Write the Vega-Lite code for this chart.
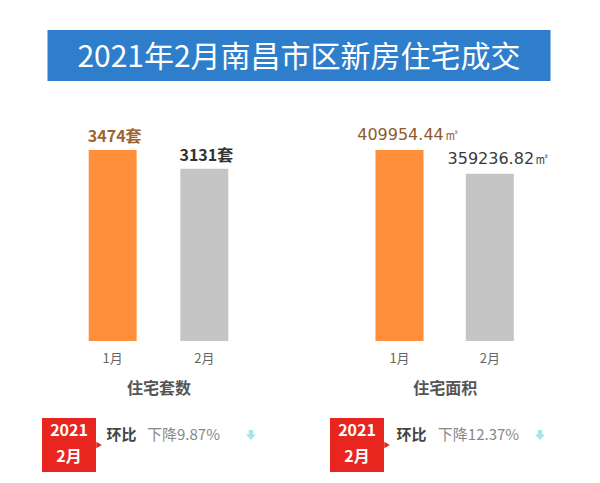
{
  "$schema": "https://vega.github.io/schema/vega-lite/v6.json",
  "padding": {"left": 42, "top": 30, "right": 5, "bottom": 5},
  "background": "white",
  "config": {
    "view": {"stroke": null},
    "font": "Noto Sans CJK SC"
  },
  "spacing": 22,
  "center": true,
  "vconcat": [
    {
      "width": 503,
      "height": 51,
      "view": {"fill": "#2e7ecb", "stroke": null},
      "data": {"values": [{"title": "2021年2月南昌市区新房住宅成交"}]},
      "mark": {"type": "text", "fontSize": 30, "color": "white", "font": "Noto Sans CJK SC", "baseline": "middle", "dy": 2},
      "encoding": {"text": {"field": "title"}}
    },
    {
      "spacing": 69.3,
      "hconcat": [
        {
          "width": 222,
          "height": 238,
          "data": {"values": [
            {"month": "1月", "count": 3474, "label": "3474套"},
            {"month": "2月", "count": 3131, "label": "3131套"}
          ]},
          "encoding": {
            "x": {"field": "month", "type": "nominal", "sort": ["1月", "2月"],
              "scale": {"paddingInner": 0.477, "paddingOuter": 0.45},
              "axis": {"title": "住宅套数", "domain": false, "ticks": false, "labelAngle": 0, "labelPadding": 11, "labelFontSize": 13, "labelColor": "#666", "titleFontSize": 16, "titleFontWeight": "bold", "titleColor": "#555", "titlePadding": 15}},
            "y": {"field": "count", "type": "quantitative", "scale": {"domain": [0, 4329]}, "axis": null}
          },
          "layer": [
            {"mark": {"type": "bar"},
             "encoding": {"color": {"condition": {"test": "datum.month === '1月'", "value": "#ff8f3a"}, "value": "#c5c5c5"}}},
            {"mark": {"type": "text", "fontSize": 16, "fontWeight": "bold", "baseline": "alphabetic", "dy": -8, "dx": 2},
             "encoding": {"text": {"field": "label"}, "color": {"condition": {"test": "datum.month === '1月'", "value": "#a0622e"}, "value": "#333333"}}}
          ]
        },
        {
          "width": 211.7,
          "height": 238,
          "data": {"values": [
            {"month": "1月", "area": 409954.44, "label": "409954.44㎡"},
            {"month": "2月", "area": 359236.82, "label": "359236.82㎡"}
          ]},
          "encoding": {
            "x": {"field": "month", "type": "nominal", "sort": ["1月", "2月"],
              "scale": {"paddingInner": 0.468, "paddingOuter": 0.406},
              "axis": {"title": "住宅面积", "domain": false, "ticks": false, "labelAngle": 0, "labelPadding": 11, "labelFontSize": 13, "labelColor": "#666", "titleFontSize": 16, "titleFontWeight": "bold", "titleColor": "#555", "titlePadding": 15}},
            "y": {"field": "area", "type": "quantitative", "scale": {"domain": [0, 510833]}, "axis": null}
          },
          "layer": [
            {"mark": {"type": "bar"},
             "encoding": {"color": {"condition": {"test": "datum.month === '1月'", "value": "#ff8f3a"}, "value": "#c5c5c5"}}},
            {"mark": {"type": "text", "font": "DejaVu Sans", "fontSize": 16, "fontWeight": "normal", "baseline": "alphabetic", "dy": -10, "dx": 9},
             "encoding": {"text": {"field": "label"}, "color": {"condition": {"test": "datum.month === '1月'", "value": "#8f5a2c"}, "value": "#3a3a3a"}}}
          ]
        }
      ]
    },
    {
      "spacing": 54,
      "hconcat": [
        {
          "spacing": 0,
          "hconcat": [
            {"width": 54, "height": 54, "view": {"fill": "#e8251f", "stroke": null},
             "data": {"values": [{"period": "2021\n2月"}]},
             "mark": {"type": "text", "lineBreak": "\n", "lineHeight": 26, "fontSize": 16, "fontWeight": "bold", "color": "white", "baseline": "middle", "dy": -14},
             "encoding": {"text": {"field": "period"}}},
            {"width": 6, "height": 54,
             "data": {"values": [{"pointer": "right"}]},
             "mark": {"type": "point", "shape": "triangle-right", "filled": true, "color": "#e8251f", "opacity": 1, "size": 40},
             "encoding": {}},
            {"width": 39, "height": 54,
             "data": {"values": [{"label": "环比"}]},
             "mark": {"type": "text", "fontSize": 15, "fontWeight": "bold", "color": "#444", "dy": -10},
             "encoding": {"text": {"field": "label"}}},
            {"width": 85, "height": 54,
             "data": {"values": [{"label": "下降9.87%"}]},
             "mark": {"type": "text", "fontSize": 15, "color": "#888", "dy": -10},
             "encoding": {"text": {"field": "label"}}},
            {"width": 50, "height": 54,
             "data": {"values": [{"direction": "down"}]},
             "mark": {"type": "point", "shape": "M-0.45,-1L0.45,-1L0.45,-0.1L1,-0.1L0,1L-1,-0.1L-0.45,-0.1Z", "filled": true, "color": "#a8e6e8", "opacity": 1, "size": 100, "yOffset": -10},
             "encoding": {}}
          ]
        },
        {
          "spacing": 0,
          "hconcat": [
            {"width": 54, "height": 54, "view": {"fill": "#e8251f", "stroke": null},
             "data": {"values": [{"period": "2021\n2月"}]},
             "mark": {"type": "text", "lineBreak": "\n", "lineHeight": 26, "fontSize": 16, "fontWeight": "bold", "color": "white", "baseline": "middle", "dy": -14},
             "encoding": {"text": {"field": "period"}}},
            {"width": 6, "height": 54,
             "data": {"values": [{"pointer": "right"}]},
             "mark": {"type": "point", "shape": "triangle-right", "filled": true, "color": "#e8251f", "opacity": 1, "size": 40},
             "encoding": {}},
            {"width": 43, "height": 54,
             "data": {"values": [{"label": "环比"}]},
             "mark": {"type": "text", "fontSize": 15, "fontWeight": "bold", "color": "#444", "dy": -10},
             "encoding": {"text": {"field": "label"}}},
            {"width": 91, "height": 54,
             "data": {"values": [{"label": "下降12.37%"}]},
             "mark": {"type": "text", "fontSize": 15, "color": "#888", "dy": -10},
             "encoding": {"text": {"field": "label"}}},
            {"width": 32, "height": 54,
             "data": {"values": [{"direction": "down"}]},
             "mark": {"type": "point", "shape": "M-0.45,-1L0.45,-1L0.45,-0.1L1,-0.1L0,1L-1,-0.1L-0.45,-0.1Z", "filled": true, "color": "#a8e6e8", "opacity": 1, "size": 100, "yOffset": -10},
             "encoding": {}}
          ]
        }
      ]
    }
  ]
}
